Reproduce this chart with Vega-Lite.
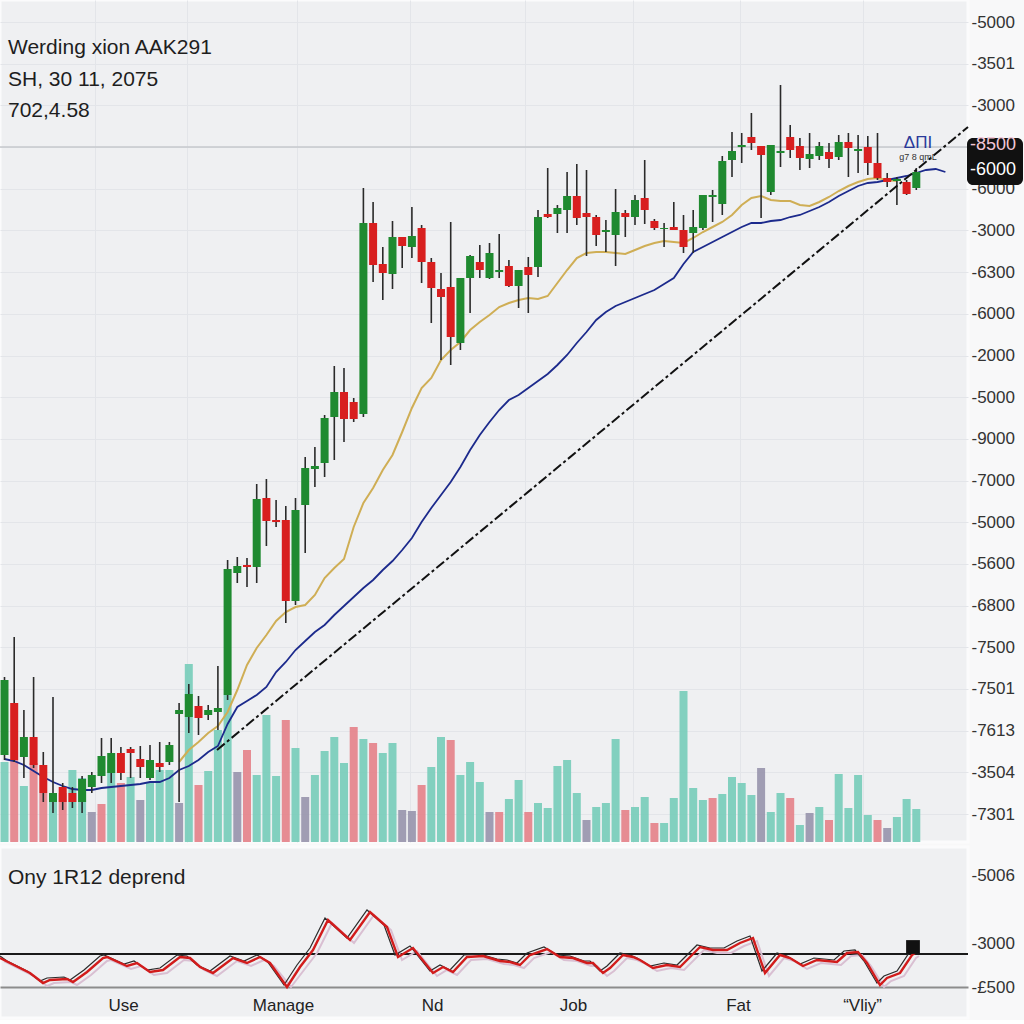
{
  "$schema": "https://vega.github.io/schema/vega-lite/v6.json",
  "background": "#f8f8f9",
  "padding": {"left": -7, "top": -2, "right": 0, "bottom": 0},
  "spacing": 1,
  "config": {
    "font": "Liberation Sans",
    "view": {"fill": "#eff0f2", "stroke": "#fbfbfc", "strokeWidth": 3},
    "axis": {"labelFont": "Liberation Sans", "titleFont": "Liberation Sans"}
  },
  "datasets": {
    "candles": [
      {"t":4.5,"o":87,"h":165,"l":82,"c":162,"vol":80,"cat":"up"},
      {"t":14.2,"o":139,"h":205,"l":80,"c":82,"vol":82,"cat":"down"},
      {"t":23.9,"o":85,"h":132,"l":64,"c":105,"vol":56,"cat":"up"},
      {"t":33.6,"o":105,"h":165,"l":74,"c":77,"vol":79,"cat":"down"},
      {"t":43.3,"o":77,"h":90,"l":40,"c":49,"vol":49,"cat":"down"},
      {"t":53.0,"o":40,"h":145,"l":29,"c":49,"vol":44,"cat":"up"},
      {"t":62.7,"o":55,"h":59,"l":32,"c":40,"vol":49,"cat":"down"},
      {"t":72.4,"o":49,"h":55,"l":34,"c":40,"vol":72,"cat":"up"},
      {"t":82.1,"o":40,"h":66,"l":29,"c":63,"vol":64,"cat":"up"},
      {"t":91.8,"o":55,"h":70,"l":49,"c":67,"vol":30,"cat":"mixed"},
      {"t":101.5,"o":66,"h":104,"l":59,"c":86,"vol":38,"cat":"down"},
      {"t":111.2,"o":69,"h":104,"l":59,"c":89,"vol":82,"cat":"up"},
      {"t":120.9,"o":89,"h":95,"l":62,"c":69,"vol":59,"cat":"down"},
      {"t":130.6,"o":93,"h":95,"l":64,"c":89,"vol":65,"cat":"up"},
      {"t":140.3,"o":83,"h":96,"l":64,"c":75,"vol":42,"cat":"mixed"},
      {"t":150.0,"o":64,"h":97,"l":62,"c":82,"vol":59,"cat":"up"},
      {"t":159.7,"o":79,"h":100,"l":70,"c":75,"vol":72,"cat":"up"},
      {"t":169.4,"o":80,"h":100,"l":77,"c":97,"vol":72,"cat":"up"},
      {"t":179.1,"o":128,"h":139,"l":40,"c":132,"vol":39,"cat":"mixed"},
      {"t":188.8,"o":125,"h":158,"l":109,"c":148,"vol":178,"cat":"up"},
      {"t":198.5,"o":136,"h":146,"l":107,"c":124,"vol":57,"cat":"down"},
      {"t":208.2,"o":127,"h":137,"l":122,"c":132,"vol":71,"cat":"up"},
      {"t":217.9,"o":130,"h":176,"l":112,"c":134,"vol":112,"cat":"up"},
      {"t":227.6,"o":147,"h":282,"l":142,"c":273,"vol":147,"cat":"up"},
      {"t":237.3,"o":269,"h":285,"l":259,"c":276,"vol":70,"cat":"mixed"},
      {"t":247.0,"o":277,"h":284,"l":255,"c":275,"vol":92,"cat":"down"},
      {"t":256.7,"o":275,"h":358,"l":259,"c":343,"vol":67,"cat":"up"},
      {"t":266.4,"o":344,"h":363,"l":296,"c":321,"vol":127,"cat":"up"},
      {"t":276.1,"o":322,"h":342,"l":315,"c":320,"vol":66,"cat":"up"},
      {"t":285.8,"o":322,"h":336,"l":219,"c":241,"vol":122,"cat":"down"},
      {"t":295.5,"o":241,"h":344,"l":237,"c":332,"vol":94,"cat":"up"},
      {"t":305.2,"o":337,"h":385,"l":289,"c":374,"vol":45,"cat":"mixed"},
      {"t":314.9,"o":373,"h":395,"l":355,"c":376,"vol":67,"cat":"up"},
      {"t":324.6,"o":379,"h":427,"l":365,"c":424,"vol":91,"cat":"up"},
      {"t":334.3,"o":425,"h":476,"l":382,"c":450,"vol":105,"cat":"up"},
      {"t":344.0,"o":450,"h":474,"l":400,"c":423,"vol":79,"cat":"up"},
      {"t":353.7,"o":440,"h":444,"l":420,"c":423,"vol":115,"cat":"down"},
      {"t":363.4,"o":428,"h":654,"l":425,"c":619,"vol":103,"cat":"up"},
      {"t":373.1,"o":619,"h":640,"l":560,"c":577,"vol":99,"cat":"down"},
      {"t":382.8,"o":578,"h":595,"l":542,"c":569,"vol":89,"cat":"up"},
      {"t":392.5,"o":568,"h":621,"l":553,"c":605,"vol":99,"cat":"up"},
      {"t":402.2,"o":605,"h":605,"l":574,"c":596,"vol":32,"cat":"mixed"},
      {"t":411.9,"o":595,"h":635,"l":584,"c":606,"vol":31,"cat":"mixed"},
      {"t":421.6,"o":614,"h":617,"l":559,"c":580,"vol":57,"cat":"down"},
      {"t":431.3,"o":580,"h":584,"l":519,"c":554,"vol":75,"cat":"up"},
      {"t":441.0,"o":553,"h":569,"l":482,"c":545,"vol":105,"cat":"up"},
      {"t":450.7,"o":555,"h":620,"l":477,"c":505,"vol":102,"cat":"down"},
      {"t":460.4,"o":499,"h":564,"l":492,"c":564,"vol":67,"cat":"up"},
      {"t":470.1,"o":564,"h":587,"l":529,"c":586,"vol":80,"cat":"up"},
      {"t":479.8,"o":580,"h":597,"l":564,"c":572,"vol":60,"cat":"up"},
      {"t":489.5,"o":564,"h":599,"l":563,"c":589,"vol":30,"cat":"mixed"},
      {"t":499.2,"o":570,"h":608,"l":564,"c":572,"vol":30,"cat":"down"},
      {"t":508.9,"o":576,"h":582,"l":555,"c":556,"vol":43,"cat":"up"},
      {"t":518.6,"o":556,"h":572,"l":534,"c":572,"vol":62,"cat":"up"},
      {"t":528.3,"o":575,"h":585,"l":529,"c":567,"vol":30,"cat":"down"},
      {"t":538.0,"o":575,"h":632,"l":565,"c":625,"vol":39,"cat":"up"},
      {"t":547.7,"o":628,"h":674,"l":624,"c":625,"vol":34,"cat":"up"},
      {"t":557.4,"o":628,"h":637,"l":609,"c":634,"vol":76,"cat":"up"},
      {"t":567.1,"o":632,"h":670,"l":609,"c":646,"vol":82,"cat":"up"},
      {"t":576.8,"o":646,"h":678,"l":617,"c":624,"vol":49,"cat":"up"},
      {"t":586.5,"o":629,"h":672,"l":586,"c":625,"vol":22,"cat":"mixed"},
      {"t":596.2,"o":625,"h":627,"l":596,"c":607,"vol":35,"cat":"up"},
      {"t":605.9,"o":610,"h":622,"l":590,"c":612,"vol":39,"cat":"up"},
      {"t":615.6,"o":607,"h":653,"l":576,"c":630,"vol":103,"cat":"up"},
      {"t":625.3,"o":629,"h":632,"l":605,"c":625,"vol":32,"cat":"down"},
      {"t":635.0,"o":625,"h":647,"l":617,"c":642,"vol":35,"cat":"up"},
      {"t":644.7,"o":644,"h":682,"l":618,"c":632,"vol":45,"cat":"up"},
      {"t":654.4,"o":621,"h":623,"l":612,"c":614,"vol":19,"cat":"down"},
      {"t":664.1,"o":613,"h":619,"l":595,"c":614,"vol":19,"cat":"up"},
      {"t":673.8,"o":615,"h":640,"l":612,"c":612,"vol":44,"cat":"up"},
      {"t":683.5,"o":612,"h":627,"l":589,"c":595,"vol":151,"cat":"up"},
      {"t":693.2,"o":609,"h":632,"l":589,"c":615,"vol":54,"cat":"up"},
      {"t":702.9,"o":614,"h":647,"l":612,"c":647,"vol":42,"cat":"up"},
      {"t":712.6,"o":645,"h":652,"l":620,"c":647,"vol":44,"cat":"down"},
      {"t":722.3,"o":638,"h":686,"l":627,"c":681,"vol":48,"cat":"up"},
      {"t":732.0,"o":682,"h":710,"l":665,"c":691,"vol":65,"cat":"up"},
      {"t":741.7,"o":695,"h":709,"l":679,"c":697,"vol":59,"cat":"up"},
      {"t":751.4,"o":705,"h":729,"l":692,"c":699,"vol":47,"cat":"up"},
      {"t":761.1,"o":696,"h":696,"l":624,"c":687,"vol":74,"cat":"mixed"},
      {"t":770.8,"o":650,"h":697,"l":647,"c":697,"vol":30,"cat":"up"},
      {"t":780.5,"o":689,"h":757,"l":675,"c":691,"vol":49,"cat":"up"},
      {"t":790.2,"o":705,"h":717,"l":684,"c":692,"vol":44,"cat":"down"},
      {"t":799.9,"o":696,"h":704,"l":672,"c":684,"vol":17,"cat":"up"},
      {"t":809.6,"o":683,"h":709,"l":674,"c":688,"vol":29,"cat":"mixed"},
      {"t":819.3,"o":686,"h":700,"l":682,"c":696,"vol":35,"cat":"up"},
      {"t":829.0,"o":690,"h":699,"l":674,"c":683,"vol":22,"cat":"down"},
      {"t":838.7,"o":685,"h":707,"l":682,"c":700,"vol":68,"cat":"up"},
      {"t":848.4,"o":700,"h":709,"l":665,"c":694,"vol":34,"cat":"up"},
      {"t":858.1,"o":691,"h":707,"l":669,"c":693,"vol":67,"cat":"up"},
      {"t":867.8,"o":695,"h":706,"l":667,"c":679,"vol":27,"cat":"up"},
      {"t":877.5,"o":679,"h":709,"l":662,"c":664,"vol":22,"cat":"down"},
      {"t":887.2,"o":664,"h":669,"l":655,"c":660,"vol":14,"cat":"mixed"},
      {"t":896.9,"o":661,"h":665,"l":637,"c":663,"vol":25,"cat":"up"},
      {"t":906.6,"o":660,"h":662,"l":647,"c":648,"vol":43,"cat":"up"},
      {"t":916.3,"o":654,"h":674,"l":652,"c":670,"vol":33,"cat":"up"}
    ],
    "ma": [
      {"t":4.5,"fast":null,"slow":83},{"t":14.2,"fast":null,"slow":81},{"t":23.9,"fast":null,"slow":77},
      {"t":33.6,"fast":null,"slow":71},{"t":43.3,"fast":null,"slow":65},{"t":53.0,"fast":null,"slow":60},
      {"t":62.7,"fast":null,"slow":56},{"t":72.4,"fast":null,"slow":53},{"t":82.1,"fast":null,"slow":52},
      {"t":91.8,"fast":null,"slow":52},{"t":101.5,"fast":null,"slow":54},{"t":111.2,"fast":null,"slow":55},
      {"t":120.9,"fast":null,"slow":56},{"t":130.6,"fast":null,"slow":57},{"t":140.3,"fast":null,"slow":58},
      {"t":150.0,"fast":null,"slow":60},{"t":159.7,"fast":null,"slow":60},{"t":169.4,"fast":null,"slow":64},
      {"t":179.1,"fast":80,"slow":72},{"t":188.8,"fast":92,"slow":76},{"t":198.5,"fast":100,"slow":82},
      {"t":208.2,"fast":109,"slow":90},{"t":217.9,"fast":116,"slow":96},{"t":227.6,"fast":130,"slow":118},
      {"t":237.3,"fast":152,"slow":135},{"t":247.0,"fast":177,"slow":141},{"t":256.7,"fast":194,"slow":147},
      {"t":266.4,"fast":207,"slow":155},{"t":276.1,"fast":221,"slow":170},{"t":285.8,"fast":230,"slow":180},
      {"t":295.5,"fast":235,"slow":192},{"t":305.2,"fast":237,"slow":201},{"t":314.9,"fast":247,"slow":210},
      {"t":324.6,"fast":264,"slow":217},{"t":334.3,"fast":274,"slow":227},{"t":344.0,"fast":283,"slow":236},
      {"t":353.7,"fast":315,"slow":245},{"t":363.4,"fast":339,"slow":254},{"t":373.1,"fast":354,"slow":262},
      {"t":382.8,"fast":372,"slow":272},{"t":392.5,"fast":387,"slow":281},{"t":402.2,"fast":410,"slow":292},
      {"t":411.9,"fast":434,"slow":304},{"t":421.6,"fast":454,"slow":320},{"t":431.3,"fast":464,"slow":334},
      {"t":441.0,"fast":482,"slow":347},{"t":450.7,"fast":492,"slow":360},{"t":460.4,"fast":500,"slow":375},
      {"t":470.1,"fast":512,"slow":392},{"t":479.8,"fast":520,"slow":407},{"t":489.5,"fast":527,"slow":420},
      {"t":499.2,"fast":535,"slow":432},{"t":508.9,"fast":539,"slow":442},{"t":518.6,"fast":542,"slow":447},
      {"t":528.3,"fast":544,"slow":454},{"t":538.0,"fast":543,"slow":461},{"t":547.7,"fast":546,"slow":468},
      {"t":557.4,"fast":559,"slow":477},{"t":567.1,"fast":572,"slow":487},{"t":576.8,"fast":584,"slow":499},
      {"t":586.5,"fast":589,"slow":510},{"t":596.2,"fast":590,"slow":522},{"t":605.9,"fast":590,"slow":530},
      {"t":615.6,"fast":589,"slow":536},{"t":625.3,"fast":588,"slow":540},{"t":635.0,"fast":592,"slow":544},
      {"t":644.7,"fast":596,"slow":548},{"t":654.4,"fast":599,"slow":552},{"t":664.1,"fast":601,"slow":558},
      {"t":673.8,"fast":600,"slow":564},{"t":683.5,"fast":599,"slow":578},{"t":693.2,"fast":604,"slow":590},
      {"t":702.9,"fast":610,"slow":595},{"t":712.6,"fast":615,"slow":600},{"t":722.3,"fast":620,"slow":605},
      {"t":732.0,"fast":627,"slow":610},{"t":741.7,"fast":637,"slow":615},{"t":751.4,"fast":644,"slow":619},
      {"t":761.1,"fast":646,"slow":619},{"t":770.8,"fast":642,"slow":621},{"t":780.5,"fast":641,"slow":622},
      {"t":790.2,"fast":641,"slow":625},{"t":799.9,"fast":637,"slow":627},{"t":809.6,"fast":636,"slow":631},
      {"t":819.3,"fast":640,"slow":635},{"t":829.0,"fast":645,"slow":640},{"t":838.7,"fast":651,"slow":646},
      {"t":848.4,"fast":656,"slow":651},{"t":858.1,"fast":660,"slow":656},{"t":867.8,"fast":663,"slow":659},
      {"t":877.5,"fast":664,"slow":660},{"t":887.2,"fast":662,"slow":662},{"t":896.9,"fast":661,"slow":664},
      {"t":906.6,"fast":null,"slow":666},{"t":916.3,"fast":null,"slow":669},{"t":926.0,"fast":null,"slow":672},
      {"t":935.7,"fast":null,"slow":673},{"t":945.4,"fast":null,"slow":670}
    ],
    "trend": [{"t":217,"p":92},{"t":968,"p":715}],
    "priceline": [{"p":694.88}],
    "box": [{"t0":967,"t1":1023,"p0":657,"p1":704}],
    "boxlabels": [{"t":970,"p":697,"label":"-8500"},{"t":970,"p":672,"label":"-6000"}],
    "notes": [{"t":918,"p":699,"label":"ΔΠΙ"},{"t":918,"p":685,"label":"g7 8 qmL"}],
    "osc": [
      {"s":"r","t":0,"v":29},{"s":"r","t":10,"v":24},{"s":"r","t":30,"v":14},{"s":"r","t":43,"v":4},{"s":"r","t":50,"v":7},{"s":"r","t":67,"v":8},{"s":"r","t":73,"v":5},{"s":"r","t":87,"v":15},{"s":"r","t":103,"v":29},{"s":"r","t":107,"v":30},{"s":"r","t":127,"v":21},{"s":"r","t":137,"v":24},{"s":"r","t":150,"v":15},{"s":"r","t":163,"v":17},{"s":"r","t":180,"v":30},{"s":"r","t":190,"v":29},{"s":"r","t":200,"v":20},{"s":"r","t":213,"v":14},{"s":"r","t":233,"v":29},{"s":"r","t":247,"v":24},{"s":"r","t":260,"v":30},{"s":"r","t":270,"v":24},{"s":"r","t":287,"v":0},{"s":"r","t":300,"v":20},{"s":"r","t":313,"v":37},{"s":"r","t":328,"v":67},{"s":"r","t":350,"v":47},{"s":"r","t":370,"v":75},{"s":"r","t":387,"v":60},{"s":"r","t":398,"v":30},{"s":"r","t":413,"v":39},{"s":"r","t":433,"v":14},{"s":"r","t":443,"v":20},{"s":"r","t":453,"v":15},{"s":"r","t":467,"v":30},{"s":"r","t":483,"v":31},{"s":"r","t":500,"v":26},{"s":"r","t":510,"v":25},{"s":"r","t":520,"v":22},{"s":"r","t":530,"v":32},{"s":"r","t":547,"v":38},{"s":"r","t":560,"v":30},{"s":"r","t":573,"v":29},{"s":"r","t":587,"v":24},{"s":"r","t":593,"v":24},{"s":"r","t":603,"v":14},{"s":"r","t":610,"v":19},{"s":"r","t":623,"v":32},{"s":"r","t":633,"v":30},{"s":"r","t":640,"v":27},{"s":"r","t":653,"v":19},{"s":"r","t":667,"v":22},{"s":"r","t":680,"v":20},{"s":"r","t":700,"v":40},{"s":"r","t":713,"v":37},{"s":"r","t":727,"v":37},{"s":"r","t":740,"v":44},{"s":"r","t":753,"v":49},{"s":"r","t":765,"v":14},{"s":"r","t":780,"v":32},{"s":"r","t":790,"v":29},{"s":"r","t":803,"v":21},{"s":"r","t":817,"v":27},{"s":"r","t":837,"v":25},{"s":"r","t":847,"v":34},{"s":"r","t":858,"v":35},{"s":"r","t":867,"v":24},{"s":"r","t":880,"v":2},{"s":"r","t":887,"v":9},{"s":"r","t":900,"v":14},{"s":"r","t":912,"v":32},{"s":"r","t":915,"v":34},
      {"s":"k","t":0,"v":31},{"s":"k","t":7,"v":26},{"s":"k","t":27,"v":16},{"s":"k","t":40,"v":6},{"s":"k","t":47,"v":9},{"s":"k","t":64,"v":10},{"s":"k","t":70,"v":7},{"s":"k","t":84,"v":17},{"s":"k","t":100,"v":31},{"s":"k","t":104,"v":32},{"s":"k","t":124,"v":23},{"s":"k","t":134,"v":26},{"s":"k","t":147,"v":17},{"s":"k","t":160,"v":19},{"s":"k","t":177,"v":32},{"s":"k","t":187,"v":31},{"s":"k","t":197,"v":22},{"s":"k","t":210,"v":16},{"s":"k","t":230,"v":31},{"s":"k","t":244,"v":26},{"s":"k","t":257,"v":32},{"s":"k","t":267,"v":26},{"s":"k","t":284,"v":2},{"s":"k","t":297,"v":22},{"s":"k","t":310,"v":39},{"s":"k","t":325,"v":69},{"s":"k","t":347,"v":49},{"s":"k","t":367,"v":77},{"s":"k","t":384,"v":62},{"s":"k","t":395,"v":32},{"s":"k","t":410,"v":41},{"s":"k","t":430,"v":16},{"s":"k","t":440,"v":22},{"s":"k","t":450,"v":17},{"s":"k","t":464,"v":32},{"s":"k","t":480,"v":33},{"s":"k","t":497,"v":28},{"s":"k","t":507,"v":27},{"s":"k","t":517,"v":24},{"s":"k","t":527,"v":34},{"s":"k","t":544,"v":40},{"s":"k","t":557,"v":32},{"s":"k","t":570,"v":31},{"s":"k","t":584,"v":26},{"s":"k","t":590,"v":26},{"s":"k","t":600,"v":16},{"s":"k","t":607,"v":21},{"s":"k","t":620,"v":34},{"s":"k","t":630,"v":32},{"s":"k","t":637,"v":29},{"s":"k","t":650,"v":21},{"s":"k","t":664,"v":24},{"s":"k","t":677,"v":22},{"s":"k","t":697,"v":42},{"s":"k","t":710,"v":39},{"s":"k","t":724,"v":39},{"s":"k","t":737,"v":46},{"s":"k","t":750,"v":51},{"s":"k","t":762,"v":16},{"s":"k","t":777,"v":34},{"s":"k","t":787,"v":31},{"s":"k","t":800,"v":23},{"s":"k","t":814,"v":29},{"s":"k","t":834,"v":27},{"s":"k","t":844,"v":36},{"s":"k","t":855,"v":37},{"s":"k","t":864,"v":26},{"s":"k","t":877,"v":4},{"s":"k","t":884,"v":11},{"s":"k","t":897,"v":16},{"s":"k","t":909,"v":34},{"s":"k","t":912,"v":36},
      {"s":"p","t":4,"v":26},{"s":"p","t":14,"v":21},{"s":"p","t":34,"v":11},{"s":"p","t":47,"v":1},{"s":"p","t":54,"v":4},{"s":"p","t":71,"v":5},{"s":"p","t":77,"v":2},{"s":"p","t":91,"v":12},{"s":"p","t":107,"v":26},{"s":"p","t":111,"v":27},{"s":"p","t":131,"v":18},{"s":"p","t":141,"v":21},{"s":"p","t":154,"v":12},{"s":"p","t":167,"v":14},{"s":"p","t":184,"v":27},{"s":"p","t":194,"v":26},{"s":"p","t":204,"v":17},{"s":"p","t":217,"v":11},{"s":"p","t":237,"v":26},{"s":"p","t":251,"v":21},{"s":"p","t":264,"v":27},{"s":"p","t":274,"v":21},{"s":"p","t":291,"v":0},{"s":"p","t":304,"v":17},{"s":"p","t":317,"v":34},{"s":"p","t":332,"v":64},{"s":"p","t":354,"v":44},{"s":"p","t":374,"v":72},{"s":"p","t":391,"v":57},{"s":"p","t":402,"v":27},{"s":"p","t":417,"v":36},{"s":"p","t":437,"v":11},{"s":"p","t":447,"v":17},{"s":"p","t":457,"v":12},{"s":"p","t":471,"v":27},{"s":"p","t":487,"v":28},{"s":"p","t":504,"v":23},{"s":"p","t":514,"v":22},{"s":"p","t":524,"v":19},{"s":"p","t":534,"v":29},{"s":"p","t":551,"v":35},{"s":"p","t":564,"v":27},{"s":"p","t":577,"v":26},{"s":"p","t":591,"v":21},{"s":"p","t":597,"v":21},{"s":"p","t":607,"v":11},{"s":"p","t":614,"v":16},{"s":"p","t":627,"v":29},{"s":"p","t":637,"v":27},{"s":"p","t":644,"v":24},{"s":"p","t":657,"v":16},{"s":"p","t":671,"v":19},{"s":"p","t":684,"v":17},{"s":"p","t":704,"v":37},{"s":"p","t":717,"v":34},{"s":"p","t":731,"v":34},{"s":"p","t":744,"v":41},{"s":"p","t":757,"v":46},{"s":"p","t":769,"v":11},{"s":"p","t":784,"v":29},{"s":"p","t":794,"v":26},{"s":"p","t":807,"v":18},{"s":"p","t":821,"v":24},{"s":"p","t":841,"v":22},{"s":"p","t":851,"v":31},{"s":"p","t":862,"v":32},{"s":"p","t":871,"v":21},{"s":"p","t":884,"v":0},{"s":"p","t":891,"v":6},{"s":"p","t":904,"v":11},{"s":"p","t":916,"v":29},{"s":"p","t":919,"v":31}
    ],
    "level": [{"v":33}],
    "marker": [{"t":913,"v":40}]
  },
  "vconcat": [
    {
      "width": 968,
      "height": 842,
      "title": {
        "text": ["Werding xion AAK291", "SH, 30 11, 2075", "702,4.58"],
        "anchor": "start", "frame": "group", "orient": "top",
        "offset": -121, "dx": 8,
        "fontSize": 21, "fontWeight": "normal", "color": "#1e1e1e",
        "font": "Liberation Sans", "lineHeight": 31.5, "baseline": "top"
      },
      "layer": [
        {
          "data": {"name": "priceline"},
          "mark": {"type": "rule", "color": "#c6c8cc", "strokeWidth": 1.5},
          "encoding": {
            "y": {
              "field": "p", "type": "quantitative",
              "scale": {"domain": [0, 842], "nice": false, "zero": false, "padding": 0},
              "axis": {
                "orient": "right", "title": null, "zindex": 0,
                "values": [28, 69.68, 111.36, 153.04, 194.72, 236.4, 278.08, 319.76, 361.44, 403.12, 444.8, 486.48, 528.16, 569.84, 611.52, 653.2, 694.88, 736.56, 778.24, 819.92],
                "labelExpr": "['-7301','-3504','-7613','-7501','-7500','-6800','-5600','-5000','-7000','-9000','-5000','-2000','-6000','-6300','-3000','-6000','','-3000','-3501','-5000'][round((datum.value-28)/41.68)]",
                "labelFontSize": 17, "labelColor": "#333333", "labelPadding": 3,
                "ticks": false, "domain": false,
                "grid": true, "gridColor": "#e3e5e9", "gridWidth": 1
              }
            }
          }
        },
        {
          "data": {"name": "candles"},
          "mark": {"type": "bar", "width": 8, "opacity": 0.95, "orient": "vertical"},
          "encoding": {
            "x": {
              "field": "t", "type": "quantitative",
              "scale": {"domain": [0, 968], "nice": false, "zero": false, "padding": 0},
              "axis": {"title": null, "labels": false, "ticks": false, "domain": false, "grid": true, "gridColor": "#e3e5e9", "values": [95, 187, 297, 410, 525, 633, 740, 863]}
            },
            "y": {"field": "vol", "type": "quantitative", "title": null},
            "color": {
              "field": "cat", "type": "nominal", "legend": null,
              "scale": {"domain": ["up", "down", "mixed"], "range": ["#7bcebc", "#e5868d", "#9b98af"]}
            }
          }
        },
        {
          "data": {"name": "ma"},
          "mark": {"type": "line", "color": "#cfae55", "strokeWidth": 2},
          "encoding": {
            "x": {"field": "t", "type": "quantitative", "title": null},
            "y": {"field": "fast", "type": "quantitative", "title": null}
          }
        },
        {
          "data": {"name": "ma"},
          "mark": {"type": "line", "color": "#1c2a8c", "strokeWidth": 1.8},
          "encoding": {
            "x": {"field": "t", "type": "quantitative", "title": null},
            "y": {"field": "slow", "type": "quantitative", "title": null}
          }
        },
        {
          "data": {"name": "candles"},
          "mark": {"type": "rule", "color": "#2a2a2a", "strokeWidth": 1.6},
          "encoding": {
            "x": {"field": "t", "type": "quantitative", "title": null},
            "y": {"field": "l", "type": "quantitative", "title": null},
            "y2": {"field": "h"}
          }
        },
        {
          "data": {"name": "candles"},
          "mark": {"type": "bar", "width": 8, "orient": "vertical"},
          "encoding": {
            "x": {"field": "t", "type": "quantitative", "title": null},
            "y": {"field": "o", "type": "quantitative", "title": null},
            "y2": {"field": "c"},
            "color": {"condition": {"test": "datum.c >= datum.o", "value": "#1f8a30"}, "value": "#d81f1f"}
          }
        },
        {
          "data": {"name": "trend"},
          "mark": {"type": "line", "color": "#111111", "strokeWidth": 2, "strokeDash": [10, 3, 3, 3]},
          "encoding": {
            "x": {"field": "t", "type": "quantitative", "title": null},
            "y": {"field": "p", "type": "quantitative", "title": null}
          }
        },
        {
          "data": {"name": "box"},
          "mark": {"type": "rect", "color": "#111111", "cornerRadius": 6},
          "encoding": {
            "x": {"field": "t0", "type": "quantitative", "title": null},
            "x2": {"field": "t1"},
            "y": {"field": "p0", "type": "quantitative", "title": null},
            "y2": {"field": "p1"}
          }
        },
        {
          "data": {"name": "boxlabels"},
          "mark": {"type": "text", "align": "left", "baseline": "middle", "fontSize": 18, "font": "Liberation Sans"},
          "encoding": {
            "x": {"field": "t", "type": "quantitative", "title": null},
            "y": {"field": "p", "type": "quantitative", "title": null},
            "text": {"field": "label"},
            "color": {"condition": {"test": "datum.p > 690", "value": "#f1c6d6"}, "value": "#ffffff"}
          }
        },
        {
          "data": {"name": "notes"},
          "mark": {"type": "text", "align": "center", "baseline": "middle", "font": "Liberation Sans"},
          "encoding": {
            "x": {"field": "t", "type": "quantitative", "title": null},
            "y": {"field": "p", "type": "quantitative", "title": null},
            "text": {"field": "label"},
            "size": {"condition": {"test": "datum.p > 690", "value": 17}, "value": 9},
            "color": {"condition": {"test": "datum.p > 690", "value": "#2a3a9a"}, "value": "#333333"}
          }
        }
      ]
    },
    {
      "width": 968,
      "height": 171,
      "title": {
        "text": "Ony 1R12 deprend",
        "anchor": "start", "frame": "group", "orient": "top",
        "offset": -41, "dx": 8,
        "fontSize": 21, "fontWeight": "normal", "color": "#1e1e1e",
        "font": "Liberation Sans", "baseline": "top"
      },
      "layer": [
        {
          "data": {"name": "level"},
          "mark": {"type": "rule", "color": "#1a1a1a", "strokeWidth": 2},
          "encoding": {
            "y": {
              "field": "v", "type": "quantitative",
              "scale": {"domain": [-31, 140], "nice": false, "zero": false, "padding": 0},
              "axis": {
                "orient": "right", "title": null, "values": [0, 44, 112],
                "labelExpr": "datum.value > 100 ? '-5006' : datum.value > 20 ? '-3000' : '-£500'",
                "labelFontSize": 17, "labelColor": "#333333", "labelPadding": 3,
                "ticks": false, "domain": false, "grid": false
              }
            }
          }
        },
        {
          "data": {"name": "osc"},
          "transform": [{"filter": "datum.s == 'p'"}],
          "mark": {"type": "line", "color": "#d9bfd2", "strokeWidth": 2},
          "encoding": {
            "x": {
              "field": "t", "type": "quantitative",
              "scale": {"domain": [0, 968], "nice": false, "zero": false, "padding": 0},
              "axis": {
                "orient": "bottom", "title": null, "offset": -31,
                "values": [123, 283, 432, 573, 738, 862],
                "labelExpr": "datum.value < 200 ? 'Use' : datum.value < 350 ? 'Manage' : datum.value < 500 ? 'Nd' : datum.value < 650 ? 'Job' : datum.value < 800 ? 'Fat' : '“Vliy”'",
                "labelFontSize": 17, "labelColor": "#222222", "labelPadding": 10,
                "ticks": false, "domain": true, "domainColor": "#8c8c8c", "domainWidth": 2, "grid": false
              }
            },
            "y": {"field": "v", "type": "quantitative", "title": null}
          }
        },
        {
          "data": {"name": "osc"},
          "transform": [{"filter": "datum.s == 'k'"}],
          "mark": {"type": "line", "color": "#2b2b2b", "strokeWidth": 1.2},
          "encoding": {
            "x": {"field": "t", "type": "quantitative", "title": null},
            "y": {"field": "v", "type": "quantitative", "title": null}
          }
        },
        {
          "data": {"name": "osc"},
          "transform": [{"filter": "datum.s == 'r'"}],
          "mark": {"type": "line", "color": "#d21c1c", "strokeWidth": 2.4},
          "encoding": {
            "x": {"field": "t", "type": "quantitative", "title": null},
            "y": {"field": "v", "type": "quantitative", "title": null}
          }
        },
        {
          "data": {"name": "marker"},
          "mark": {"type": "point", "shape": "square", "filled": true, "color": "#111111", "size": 190, "opacity": 1},
          "encoding": {
            "x": {"field": "t", "type": "quantitative", "title": null},
            "y": {"field": "v", "type": "quantitative", "title": null}
          }
        }
      ]
    }
  ]
}
